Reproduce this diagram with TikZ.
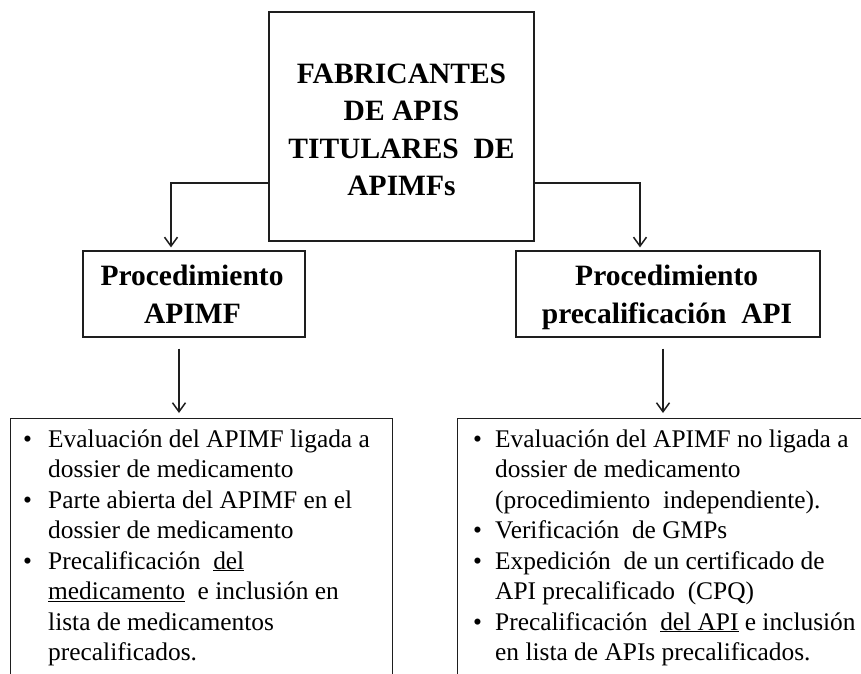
\documentclass[tikz,border=0pt]{standalone}
\usepackage{fontspec}
\setmainfont{Liberation Serif}[BoldFont={Liberation Serif Bold}, ItalicFont={Liberation Serif Italic}]
\usetikzlibrary{arrows.meta}
\definecolor{linec}{HTML}{1E1E1E}
\begin{document}
\begin{tikzpicture}[x=1pt,y=-1pt,
  box/.style={draw=linec, line width=1.2pt, inner sep=0pt},
  head/.style={font=\fontsize{29.5}{38}\selectfont\bfseries, anchor=base, inner sep=0pt},
  body/.style={font=\fontsize{25.4}{30.5}\selectfont, anchor=base west, inner sep=0pt},
  arr/.style={draw=linec, line width=1.2pt, -{Straight Barb[length=9pt,width=13pt,line width=1.5pt]}}]
\useasboundingbox (0,0) rectangle (861,673);
\clip (0,0) rectangle (861,673);

% top box
\node[box, minimum width=265pt, minimum height=229pt] (top) at (401.5,126.5) {};
\node[head] (t1) at (401.5,83.3) {FABRICANTES};
\node[head] (t2) at (401.5,120.7) {DE APIS};
\node[head] (t3) at (401.5,158) {TITULARES\ \ DE};
\node[head] (t4) at (401.5,195.3) {APIMFs};

% procedure boxes
\node[box, minimum width=222pt, minimum height=86pt] (lp) at (194,294) {};
\node[head] (lp1) at (192,285) {Procedimiento};
\node[head] (lp2) at (192.5,323) {APIMF};
\node[box, minimum width=304pt, minimum height=86pt] (rp) at (668,294) {};
\node[head] (rp1) at (666.7,285) {Procedimiento};
\node[head] (rp2) at (667,323) {precalificación\ \ API};

% bottom boxes
\node[box, anchor=north west, minimum width=382pt, minimum height=300pt] (lb) at (10,418) {};
\node[box, anchor=north west, minimum width=430pt, minimum height=300pt] (rb) at (457,418) {};

% connectors
\draw[arr, shorten >=3pt] (top.west |- 0,183) -| (171,0 |- lp.north);
\draw[arr, shorten >=3pt] (top.east |- 0,183) -| (640,0 |- rp.north);
\draw[arr, shorten <=11pt, shorten >=5pt] (179,0 |- lp.south) -- (179,0 |- lb.north);
\draw[arr, shorten <=11pt, shorten >=5pt] (663,0 |- rp.south) -- (663,0 |- rb.north);

% left list
\node[body] (lb1) at (23,447) {•};
\node[body] (la1) at (48,447) {Evaluación del APIMF ligada a};
\node[body] (la2) at (48,477.5) {dossier de medicamento};
\node[body] (lb3) at (23,508) {•};
\node[body] (la3) at (48,508) {Parte abierta del APIMF en el};
\node[body] (la4) at (48,538.5) {dossier de medicamento};
\node[body] (lb5) at (23,569) {•};
\node[body] (la5) at (48,569) {Precalificación\ \ \underline{del}};
\node[body] (la6) at (48,599.5) {\underline{medicamento}\ \ e inclusión en};
\node[body] (la7) at (48,630) {lista de medicamentos};
\node[body] (la8) at (48,660.5) {precalificados.};

% right list
\node[body] (rb1) at (473,447) {•};
\node[body] (ra1) at (495,447) {Evaluación del APIMF no ligada a};
\node[body] (ra2) at (495,477.5) {dossier de medicamento};
\node[body] (ra3) at (495,508) {(procedimiento\ \ independiente).};
\node[body] (rb4) at (473,538.5) {•};
\node[body] (ra4) at (495,538.5) {Verificación\ \ de GMPs};
\node[body] (rb5) at (473,569) {•};
\node[body] (ra5) at (495,569) {Expedición\ \ de un certificado de};
\node[body] (ra6) at (495,599.5) {API precalificado\ \ (CPQ)};
\node[body] (rb7) at (473,630) {•};
\node[body] (ra7) at (495,630) {Precalificación\ \ \underline{del API} e inclusión};
\node[body] (ra8) at (495,660.5) {en lista de APIs precalificados.};
\end{tikzpicture}
\end{document}
